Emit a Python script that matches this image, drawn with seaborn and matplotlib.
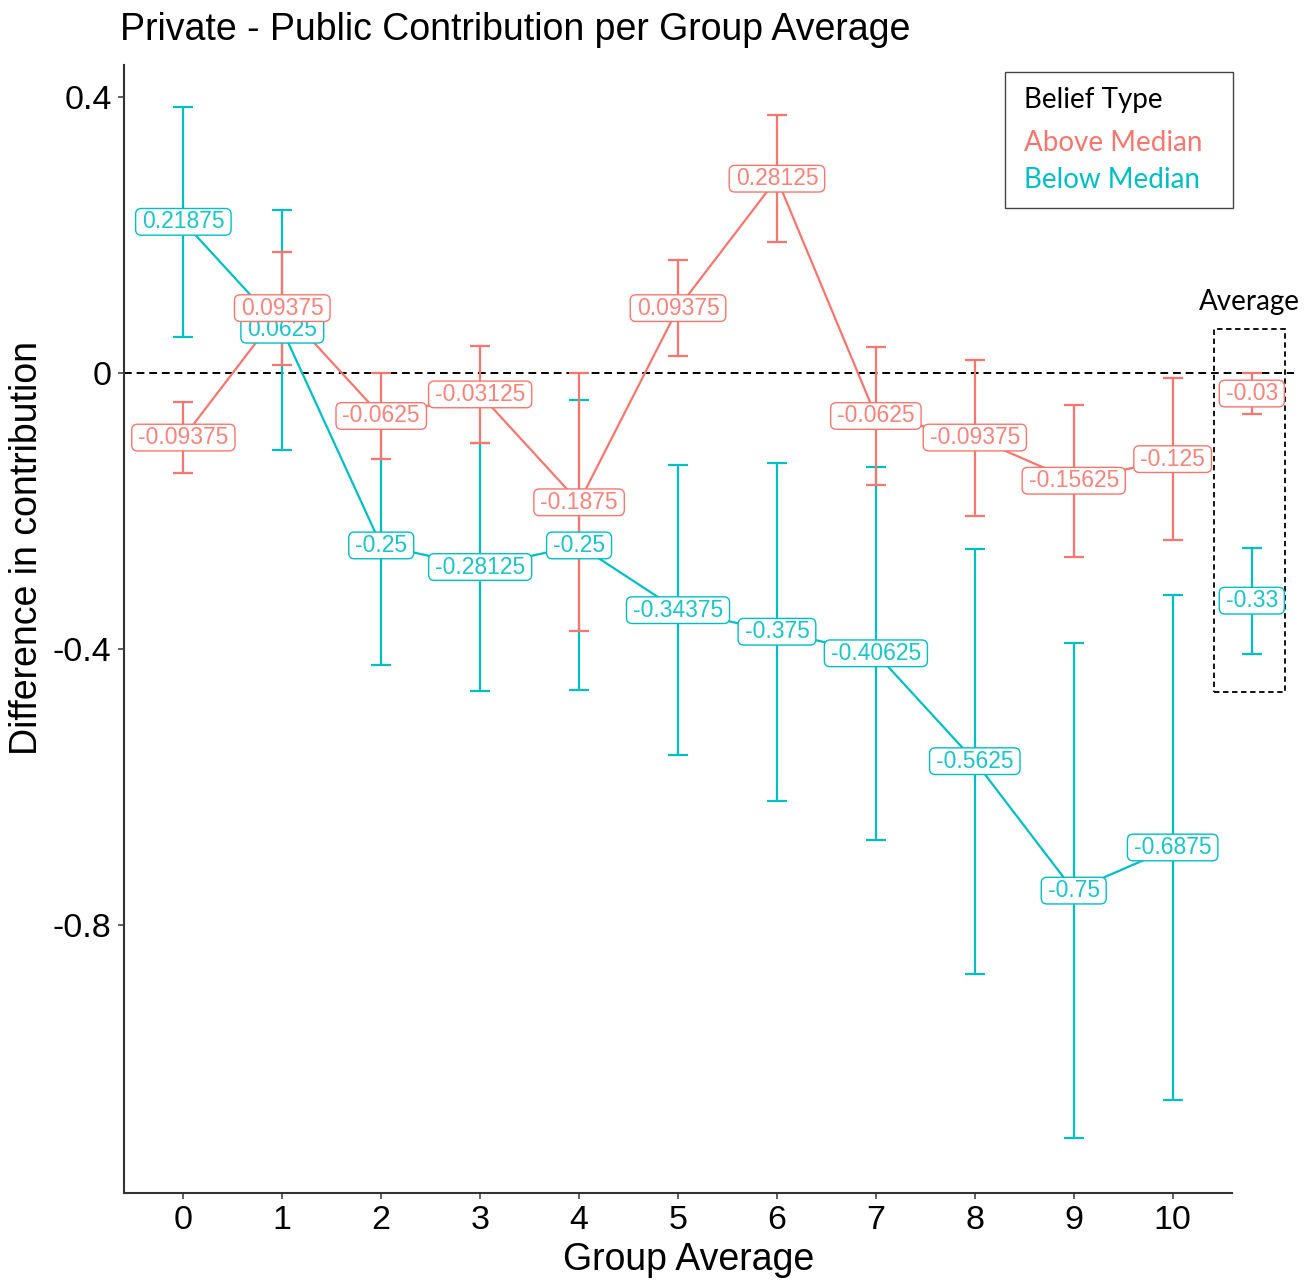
import numpy as np
import pandas as pd
import seaborn as sns
import matplotlib.pyplot as plt
from matplotlib.patches import Rectangle, BoxStyle

# values
group_avg = list(range(11))
above_mean = [-0.09375, 0.09375, -0.0625, -0.03125, -0.1875, 0.09375, 0.28125,
              -0.0625, -0.09375, -0.15625, -0.125]
above_err = [0.052, 0.082, 0.062, 0.070, 0.187, 0.069, 0.092, 0.100, 0.113, 0.110, 0.117]
below_mean = [0.21875, 0.0625, -0.25, -0.28125, -0.25, -0.34375, -0.375,
              -0.40625, -0.5625, -0.75, -0.6875]
below_err = [0.167, 0.174, 0.173, 0.180, 0.210, 0.210, 0.245, 0.270, 0.308, 0.359, 0.366]
avg_above, avg_above_err = -0.03, 0.03
avg_below, avg_below_err = -0.33, 0.077

RED = "#F8766D"
CYAN = "#00BFC4"

sns.set_theme(style="ticks")
plt.rcParams['font.family'] = ['Liberation Sans', 'DejaVu Sans']
plt.rcParams['text.color'] = 'black'
plt.rcParams['axes.labelcolor'] = 'black'


class FlatRound(BoxStyle.Round):
    """rounded box with less vertical padding, like ggplot labels"""
    def __call__(self, x0, y0, width, height, mutation_size):
        s = 0.2 * mutation_size
        return super().__call__(x0, y0 + s, width, height - 2 * s, mutation_size)


df = pd.DataFrame({
    "group_avg": group_avg * 2,
    "diff": above_mean + below_mean,
    "belief": ["Above Median"] * 11 + ["Below Median"] * 11,
})

fig = plt.figure(figsize=(13.15, 12.81), dpi=100)
ax = fig.add_axes([0.0943, 0.0687, 0.8426, 0.8806])

sns.lineplot(data=df, x="group_avg", y="diff", hue="belief",
             hue_order=["Below Median", "Above Median"],
             palette={"Above Median": RED, "Below Median": CYAN},
             linewidth=1.6, legend=False, ax=ax, zorder=2)

# error bars (cyan first, red on top)
for means, errs, col in [(below_mean, below_err, CYAN), (above_mean, above_err, RED)]:
    ax.errorbar(group_avg, means, yerr=errs, fmt="none", ecolor=col,
                elinewidth=1.6, capsize=7, capthick=1.6, zorder=3)

# "Average" column outside the panel
avg_x = 10.8
for m, e, col in [(avg_below, avg_below_err, CYAN), (avg_above, avg_above_err, RED)]:
    cont = ax.errorbar([avg_x], [m], yerr=[e], fmt="none", ecolor=col,
                       elinewidth=1.6, capsize=7, capthick=1.6, zorder=3)
    for art in cont.get_children():
        art.set_clip_on(False)

ax.plot([-0.6, 11.23], [0, 0], color="black", ls=(0, (4, 2.5)), lw=1.4,
        clip_on=False, zorder=1)

def label(x, v, col):
    ax.text(x, v, f"{v:g}", ha="center", va="center", fontsize=16.5, color=col,
            alpha=0.9, zorder=5, clip_on=False,
            bbox=dict(boxstyle=FlatRound(pad=0.28, rounding_size=0.25), fc="white",
                      ec=col, lw=1.0))

for x, v in zip(group_avg, below_mean):
    label(x, v, CYAN)
for x, v in zip(group_avg, above_mean):
    label(x, v, RED)
label(avg_x, avg_below, CYAN)
label(avg_x, avg_above, RED)

ax.add_patch(Rectangle((10.42, -0.462), 0.72, 0.525, fill=False, ec="black",
                       ls=(0, (3, 2)), lw=1.3, clip_on=False, zorder=4))
ax.text(avg_x - 0.02, 0.103, "Average", ha="center", va="center", fontsize=20,
        family=["Lato", "DejaVu Sans"], color="black")

ax.set_xlim(-0.6, 10.6)
ax.set_ylim(-1.188, 0.446)
ax.set_xticks(group_avg)
ax.set_xticklabels([str(g) for g in group_avg])
ax.set_yticks([0.4, 0, -0.4, -0.8])
ax.set_yticklabels(["0.4", "0", "-0.4", "-0.8"])
ax.tick_params(labelsize=24.5, length=4, width=1.3, color="#555555", pad=5, labelcolor="black")
sns.despine(ax=ax)
for s in ["left", "bottom"]:
    ax.spines[s].set_color("#333333")
    ax.spines[s].set_linewidth(1.5)

ax.set_xlabel("Group Average", fontsize=27)
ax.xaxis.set_label_coords(0.51, -0.043)
ax.set_ylabel("Difference in contribution", fontsize=27)
ax.yaxis.set_label_coords(-0.071, 0.572)

fig.text(120 / 1315, 1 - 40 / 1281, "Private - Public Contribution per Group Average",
         ha="left", va="baseline", fontsize=27)

# legend box
fig.add_artist(Rectangle((1005 / 1315, 1 - 208 / 1281), 228 / 1315, 136 / 1281,
                         transform=fig.transFigure, fill=False, ec="#444444", lw=1.0))
for ypx, txt, col in [(100, "Belief Type", "black"), (143, "Above Median", RED),
                      (180, "Below Median", CYAN)]:
    fig.text(1024 / 1315, 1 - ypx / 1281, txt, ha="left", va="center", fontsize=20,
             color=col, family=["Lato", "DejaVu Sans"])

plt.savefig("out.png", dpi=100)
